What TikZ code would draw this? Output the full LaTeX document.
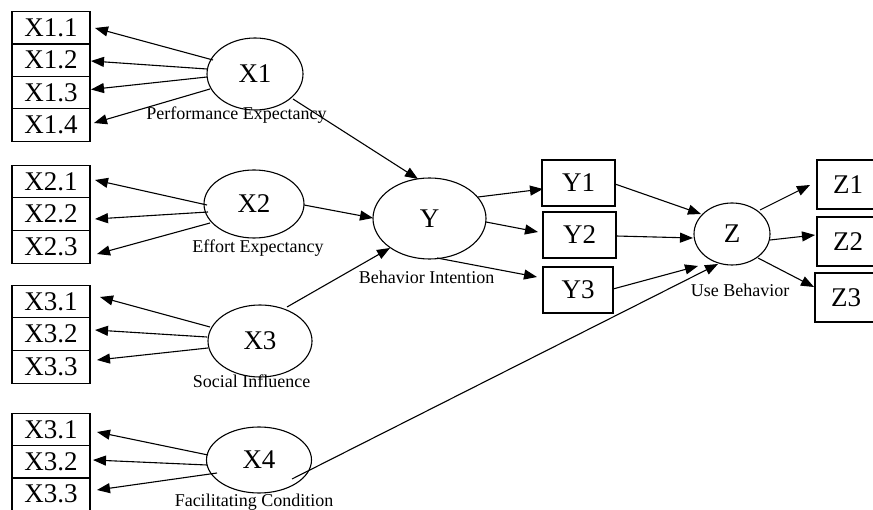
\documentclass[tikz,border=0pt]{standalone}
\usepackage{fontspec}
\setmainfont{Liberation Serif}
\usetikzlibrary{shapes.geometric,arrows.meta,calc}
\begin{document}
\begin{tikzpicture}[x=1pt,y=-1pt,
  ind/.style={draw,line width=1.2pt,minimum width=78pt,minimum height=32.5pt,inner sep=0pt,font=\fontsize{27}{30}\selectfont},
  obs/.style={draw,line width=1.2pt,minimum width=72pt,minimum height=46pt,inner sep=0pt,font=\fontsize{27}{30}\selectfont},
  lat/.style={draw,ellipse,line width=1.1pt,inner sep=0pt,font=\fontsize{27}{30}\selectfont},
  lab/.style={font=\fontsize{18}{20}\selectfont,inner sep=0pt,anchor=base},
  arr/.style={-{Triangle[length=13pt,width=10pt]},line width=1.1pt}]
\clip (0,0) rectangle (873,510);
\fill[white] (0,0) rectangle (873,510);

% indicator boxes
\node[ind] (x11) at (51,28) {X1.1};
\node[ind] (x12) at (51,60) {X1.2};
\node[ind] (x13) at (51,92.5) {X1.3};
\node[ind] (x14) at (51,125) {X1.4};
\node[ind] (x21) at (51,181.5) {X2.1};
\node[ind] (x22) at (51,214) {X2.2};
\node[ind] (x23) at (51,247) {X2.3};
\node[ind] (x31) at (51,301.5) {X3.1};
\node[ind] (x32) at (51,334) {X3.2};
\node[ind] (x33) at (51,367) {X3.3};
\node[ind] (x41) at (51,429.5) {X3.1};
\node[ind] (x42) at (51,462) {X3.2};
\node[ind] (x43) at (51,494) {X3.3};

% latent ellipses
\node[lat,minimum width=96pt,minimum height=72pt] (X1) at (255,74) {X1};
\node[lat,minimum width=100pt,minimum height=68pt] (X2) at (254,204) {X2};
\node[lat,minimum width=104pt,minimum height=72pt] (X3) at (260,341) {X3};
\node[lat,minimum width=105pt,minimum height=66pt] (X4) at (259,460) {X4};
\node[lat,minimum width=113pt,minimum height=81pt] (Y) at (429.5,218.5) {Y};
\node[lat,minimum width=76pt,minimum height=62pt] (Z) at (732,234) {Z};

% Y and Z indicators
\node[obs,minimum width=73pt] (y1) at (578.5,183) {Y1};
\node[obs,minimum width=73pt] (y2) at (579.5,235) {Y2};
\node[obs,minimum width=70pt] (y3) at (578,290) {Y3};
\node[obs,minimum width=62pt,minimum height=49pt] (z1) at (848,184.5) {Z1};
\node[obs,minimum width=62pt,minimum height=49pt] (z2) at (848,241.5) {Z2};
\node[obs,minimum width=62pt,minimum height=49pt] (z3) at (846,297.5) {Z3};

% labels
\node[lab] (l1) at (236.5,120) {Performance Expectancy};
\node[lab] (l2) at (258,253) {Effort Expectancy};
\node[lab] (l3) at (251.5,388) {Social Influence};
\node[lab] (l4) at (254,506) {Facilitating Condition};
\node[lab] (l5) at (426.5,284) {Behavior Intention};
\node[lab] (l6) at (740,297) {Use Behavior};

% X1 loadings
\draw[arr] ($(X1)+(-42,-14)$) -- ($(x11)+(44,0)$);
\draw[arr] ($(X1)+(-48,-5)$) -- ($(x12)+(40,1)$);
\draw[arr] ($(X1)+(-48,3)$) -- ($(x13)+(40,-3)$);
\draw[arr] ($(X1)+(-45,15)$) -- ($(x14)+(43,-2)$);
% X2 loadings
\draw[arr] ($(X2)+(-47,1)$) -- ($(x21)+(44,-1.5)$);
\draw[arr] ($(X2)+(-46,8)$) -- ($(x22)+(44,5)$);
\draw[arr] ($(X2)+(-44,19)$) -- ($(x23)+(46,7)$);
% X3 loadings
\draw[arr] ($(X3)+(-50,-14)$) -- ($(x31)+(49,-4.5)$);
\draw[arr] ($(X3)+(-53,-4)$) -- ($(x32)+(44,-4)$);
\draw[arr] ($(X3)+(-52,7)$) -- ($(x33)+(46,-7)$);
% X4 loadings
\draw[arr] ($(X4)+(-51,-5)$) -- ($(x41)+(46,2.5)$);
\draw[arr] ($(X4)+(-52,5)$) -- ($(x42)+(42,-2)$);
\draw[arr] ($(X4)+(-42,13)$) -- ($(x43)+(46,-4)$);

% structural paths
\draw[arr] ($(X1)+(38,25)$) -- ($(Y)+(-11.5,-39.5)$);
\draw[arr] ($(X2)+(50,1)$) -- ($(Y)+(-56.5,-0.5)$);
\draw[arr] ($(X3)+(27,-34)$) -- ($(Y)+(-39.5,29.5)$);
\draw[arr] ($(X4)+(33,19)$) -- ($(Z)+(-14,30)$);

% Y loadings
\draw[arr] ($(Y)+(48.5,-21.5)$) -- ($(y1)+(-35.5,6)$);
\draw[arr] ($(Y)+(56.5,3.5)$) -- ($(y2)+(-41.5,-3)$);
\draw[arr] ($(Y)+(7.5,39.5)$) -- ($(y3)+(-41,-13)$);

% Y indicators to Z
\draw[arr] ($(y1)+(36.5,1)$) -- ($(Z)+(-31,-20)$);
\draw[arr] ($(y2)+(36.5,1)$) -- ($(Z)+(-39,4)$);
\draw[arr] ($(y3)+(35,-1)$) -- ($(Z)+(-34,32)$);

% Z loadings
\draw[arr] ($(Z)+(28,-24)$) -- ($(z1)+(-38,0.5)$);
\draw[arr] ($(Z)+(38,6)$) -- ($(z2)+(-33,-6.5)$);
\draw[arr] ($(Z)+(26,24)$) -- ($(z3)+(-32,-10.5)$);
\end{tikzpicture}
\end{document}
